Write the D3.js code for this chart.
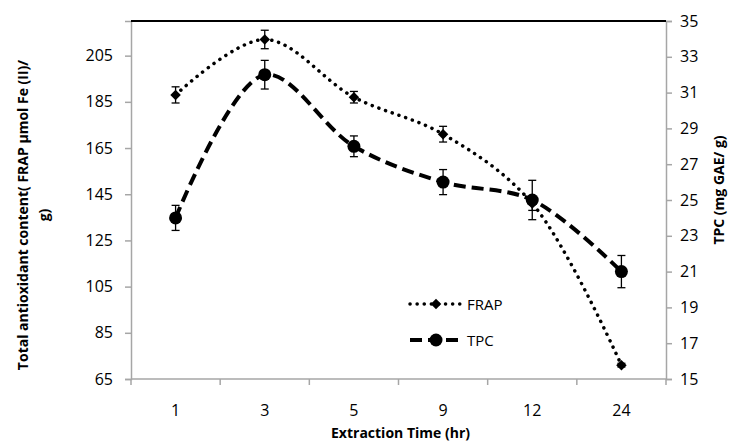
<!DOCTYPE html>
<html>
<head>
<meta charset="utf-8">
<script src="https://cdn.jsdelivr.net/npm/d3@7"></script>
<style>
    body { margin: 0; background: #fff; }
    text { font-family: "Open Sans", sans-serif; fill: #000; }
    .tick-label { font-size: 16px; }
    .axis-title { font-size: 14px; font-weight: bold; }
    .legend-label { font-size: 15px; }
</style>
</head>
<body>
<div id="chart"></div>
<script>
// data
const times = ["1", "3", "5", "9", "12", "24"];
const frap = [188, 212, 187, 171, 141, 71];
const frapErr = [3.5, 4, 2.5, 3.4, 3, 0.8];
const tpc = [24.0, 32.0, 28.0, 26.0, 25.0, 21.0];
const tpcErr = [0.7, 0.8, 0.58, 0.7, 1.1, 0.9];
const leftTicks = [65, 85, 105, 125, 145, 165, 185, 205];
const rightTicks = [15, 17, 19, 21, 23, 25, 27, 29, 31, 33, 35];

let margin = {top: 21, right: 65, bottom: 64, left: 131};
let width = 731 - margin.left - margin.right;
let height = 443 - margin.top - margin.bottom;

let svg = d3.select("#chart").append("svg")
    .attr("width", 731)
    .attr("height", 443)
    .append("g")
    .attr("transform", `translate(${margin.left}, ${margin.top})`);

// scales
let x = d3.scaleBand().domain(times).range([0, width]);
let yL = d3.scaleLinear().domain([65, 220]).range([height, 0]);
let yR = d3.scaleLinear().domain([15, 35]).range([height, 0]);
let cx = d => x(d) + x.bandwidth() / 2;

// axes
let xAxis = d3.axisBottom(x).tickSize(0).tickPadding(0).tickFormat("");
let yAxisL = d3.axisLeft(yL).tickValues(leftTicks).tickSize(6).tickPadding(12);
let yAxisR = d3.axisRight(yR).tickValues(rightTicks).tickSize(6).tickPadding(8);

let gL = svg.append("g").call(yAxisL);
let gR = svg.append("g").attr("transform", `translate(${width},0)`).call(yAxisR);
[gL, gR].forEach(g => {
    g.select(".domain").attr("stroke", "#a6a6a6").attr("stroke-width", 1.5);
    g.selectAll(".tick line").attr("stroke", "#a6a6a6").attr("stroke-width", 1.5);
    g.selectAll(".tick text").attr("class", "tick-label").attr("font-size", null).attr("font-family", null);
});

// bottom axis line + boundary ticks
let bounds = times.map(t => x(t)).concat([width]);
svg.append("line").attr("x1", 0).attr("x2", width).attr("y1", height).attr("y2", height)
    .attr("stroke", "#a6a6a6").attr("stroke-width", 1.5);
svg.selectAll(".xtick").data(bounds).enter().append("line")
    .attr("x1", d => d).attr("x2", d => d).attr("y1", height).attr("y2", height + 6)
    .attr("stroke", "#a6a6a6").attr("stroke-width", 1.5);
svg.selectAll(".xlabel").data(times).enter().append("text")
    .attr("class", "tick-label")
    .attr("x", d => cx(d)).attr("y", height + 37)
    .attr("text-anchor", "middle")
    .text(d => d);

// top border
svg.append("line").attr("x1", 0).attr("x2", width).attr("y1", 0).attr("y2", 0)
    .attr("stroke", "#000").attr("stroke-width", 2);

// axis titles
svg.append("text").attr("class", "axis-title")
    .attr("x", width / 2 + 2).attr("y", height + 59)
    .attr("text-anchor", "middle")
    .text("Extraction Time (hr)");

let lt = svg.append("text").attr("class", "axis-title")
    .attr("transform", `translate(${-margin.left + 28}, ${height / 2 + 15}) rotate(-90)`)
    .attr("text-anchor", "middle");
lt.append("tspan").attr("x", 0).attr("dy", 0).text("Total antioxidant content( FRAP µmol Fe (II)/");
lt.append("tspan").attr("x", 0).attr("dy", 21).text("g)");

svg.append("text").attr("class", "axis-title")
    .attr("transform", `translate(${width + 58}, ${height / 2 - 10}) rotate(-90)`)
    .attr("text-anchor", "middle")
    .text("TPC (mg GAE/ g)");

// lines
let frapData = times.map((t, i) => ({t: t, v: frap[i], e: frapErr[i]}));
let tpcData = times.map((t, i) => ({t: t, v: tpc[i], e: tpcErr[i]}));

let frapLine = d3.line().x(d => cx(d.t)).y(d => yL(d.v)).curve(d3.curveCatmullRom.alpha(0.5));
let tpcLine = d3.line().x(d => cx(d.t)).y(d => yR(d.v)).curve(d3.curveCatmullRom.alpha(0.5));

svg.append("path").datum(frapData).attr("d", frapLine)
    .attr("fill", "none").attr("stroke", "#000").attr("stroke-width", 3.5)
    .attr("stroke-linecap", "round").attr("stroke-dasharray", "0.1 7");

svg.append("path").datum(tpcData).attr("d", tpcLine)
    .attr("fill", "none").attr("stroke", "#000").attr("stroke-width", 4)
    .attr("stroke-dasharray", "12 6");

// error bars
function errorBars(data, y, cls) {
    let g = svg.selectAll("." + cls).data(data).enter().append("g").attr("class", cls)
        .attr("stroke", "#000").attr("stroke-width", 1.3);
    g.append("line").attr("x1", d => cx(d.t)).attr("x2", d => cx(d.t))
        .attr("y1", d => y(d.v - d.e)).attr("y2", d => y(d.v + d.e));
    g.append("line").attr("x1", d => cx(d.t) - 4).attr("x2", d => cx(d.t) + 4)
        .attr("y1", d => y(d.v - d.e)).attr("y2", d => y(d.v - d.e));
    g.append("line").attr("x1", d => cx(d.t) - 4).attr("x2", d => cx(d.t) + 4)
        .attr("y1", d => y(d.v + d.e)).attr("y2", d => y(d.v + d.e));
}
errorBars(frapData, yL, "frap-err");
errorBars(tpcData, yR, "tpc-err");

// markers
let diamond = d3.symbol().type(d3.symbolDiamond2).size(70);
svg.selectAll(".frap-pt").data(frapData).enter().append("path")
    .attr("class", "frap-pt")
    .attr("d", diamond)
    .attr("transform", d => `translate(${cx(d.t)}, ${yL(d.v)})`)
    .attr("fill", "#000");

svg.selectAll(".tpc-pt").data(tpcData).enter().append("circle")
    .attr("class", "tpc-pt")
    .attr("cx", d => cx(d.t)).attr("cy", d => yR(d.v)).attr("r", 6.5)
    .attr("fill", "#000");

// legend
let legend = svg.append("g").attr("transform", `translate(${410 - margin.left}, ${304 - margin.top})`);
legend.append("line").attr("x1", 0).attr("x2", 50).attr("y1", 0).attr("y2", 0)
    .attr("stroke", "#000").attr("stroke-width", 3.5)
    .attr("stroke-linecap", "round").attr("stroke-dasharray", "0.1 7");
legend.append("path").attr("d", diamond).attr("transform", "translate(26,0)").attr("fill", "#000");
legend.append("text").attr("class", "legend-label").attr("x", 57).attr("y", 5.5).text("FRAP");

legend.append("line").attr("x1", 0).attr("x2", 50).attr("y1", 36).attr("y2", 36)
    .attr("stroke", "#000").attr("stroke-width", 4).attr("stroke-dasharray", "12 6");
legend.append("circle").attr("cx", 26).attr("cy", 36).attr("r", 6.5).attr("fill", "#000");
legend.append("text").attr("class", "legend-label").attr("x", 57).attr("y", 41.5).text("TPC");
</script>
</body>
</html>
